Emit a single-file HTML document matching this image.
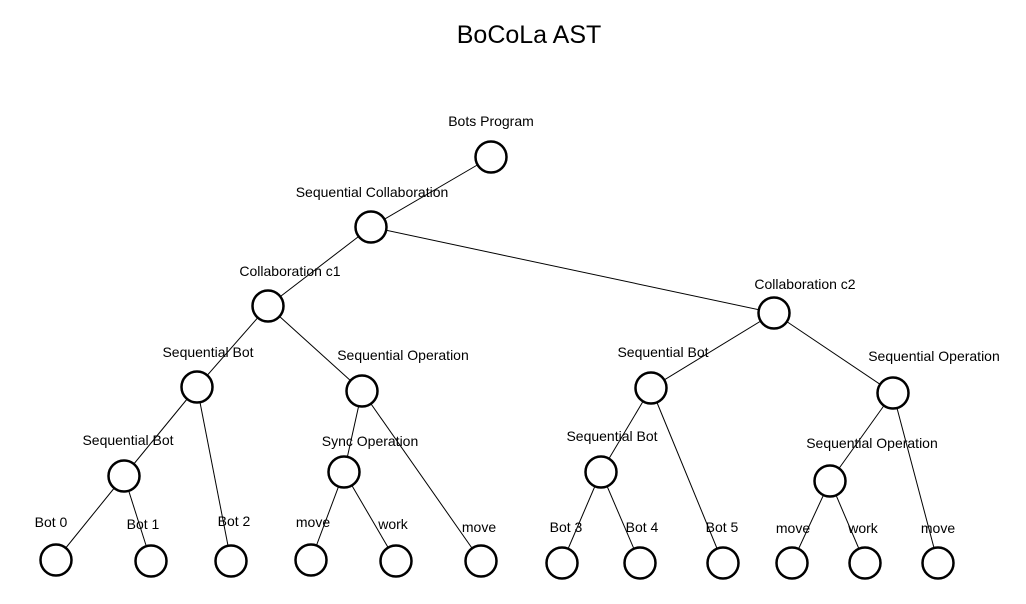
<!DOCTYPE html>
<html><head><meta charset="utf-8"><style>
html,body{margin:0;padding:0;background:#fff;}
svg{display:block;}
text{font-family:"Liberation Sans",Arial,sans-serif;font-size:14px;fill:#000;text-anchor:middle;}
</style></head><body>
<svg width="1026" height="604" viewBox="0 0 1026 604" xmlns="http://www.w3.org/2000/svg">
<text x="529" y="43" style="font-size:25px">BoCoLa AST</text>
<g stroke="#000" stroke-width="1">
<line x1="491" y1="157" x2="371" y2="227"/>
<line x1="371" y1="227" x2="268" y2="306"/>
<line x1="371" y1="227" x2="774" y2="313"/>
<line x1="268" y1="306" x2="197" y2="387"/>
<line x1="268" y1="306" x2="362" y2="391"/>
<line x1="197" y1="387" x2="124" y2="476"/>
<line x1="197" y1="387" x2="231" y2="561"/>
<line x1="124" y1="476" x2="56" y2="560"/>
<line x1="124" y1="476" x2="151" y2="561"/>
<line x1="362" y1="391" x2="344" y2="472"/>
<line x1="362" y1="391" x2="481" y2="561"/>
<line x1="344" y1="472" x2="311" y2="560"/>
<line x1="344" y1="472" x2="396" y2="561"/>
<line x1="774" y1="313" x2="651" y2="388"/>
<line x1="774" y1="313" x2="893" y2="393"/>
<line x1="651" y1="388" x2="601" y2="472"/>
<line x1="651" y1="388" x2="723" y2="563"/>
<line x1="601" y1="472" x2="562" y2="563"/>
<line x1="601" y1="472" x2="640" y2="563"/>
<line x1="893" y1="393" x2="830" y2="481"/>
<line x1="893" y1="393" x2="938" y2="563"/>
<line x1="830" y1="481" x2="792" y2="563"/>
<line x1="830" y1="481" x2="865" y2="563"/>
</g>
<g fill="#fff" stroke="#000" stroke-width="2.5">
<circle cx="491" cy="157" r="15.5"/>
<circle cx="371" cy="227" r="15.5"/>
<circle cx="268" cy="306" r="15.5"/>
<circle cx="774" cy="313" r="15.5"/>
<circle cx="197" cy="387" r="15.5"/>
<circle cx="362" cy="391" r="15.5"/>
<circle cx="124" cy="476" r="15.5"/>
<circle cx="344" cy="472" r="15.5"/>
<circle cx="56" cy="560" r="15.5"/>
<circle cx="151" cy="561" r="15.5"/>
<circle cx="231" cy="561" r="15.5"/>
<circle cx="311" cy="560" r="15.5"/>
<circle cx="396" cy="561" r="15.5"/>
<circle cx="481" cy="561" r="15.5"/>
<circle cx="651" cy="388" r="15.5"/>
<circle cx="893" cy="393" r="15.5"/>
<circle cx="601" cy="472" r="15.5"/>
<circle cx="562" cy="563" r="15.5"/>
<circle cx="640" cy="563" r="15.5"/>
<circle cx="723" cy="563" r="15.5"/>
<circle cx="830" cy="481" r="15.5"/>
<circle cx="792" cy="563" r="15.5"/>
<circle cx="865" cy="563" r="15.5"/>
<circle cx="938" cy="563" r="15.5"/>
</g>
<text x="491" y="126">Bots Program</text>
<text x="372" y="197">Sequential Collaboration</text>
<text x="290" y="276">Collaboration c1</text>
<text x="805" y="289">Collaboration c2</text>
<text x="208" y="357">Sequential Bot</text>
<text x="403" y="360">Sequential Operation</text>
<text x="128" y="445">Sequential Bot</text>
<text x="370" y="446">Sync Operation</text>
<text x="51" y="527">Bot 0</text>
<text x="143" y="529">Bot 1</text>
<text x="234" y="526">Bot 2</text>
<text x="313" y="527">move</text>
<text x="393" y="529">work</text>
<text x="479" y="532">move</text>
<text x="663" y="357">Sequential Bot</text>
<text x="934" y="361">Sequential Operation</text>
<text x="612" y="441">Sequential Bot</text>
<text x="872" y="448">Sequential Operation</text>
<text x="566" y="532">Bot 3</text>
<text x="642" y="532">Bot 4</text>
<text x="722" y="532">Bot 5</text>
<text x="793" y="533">move</text>
<text x="863" y="533">work</text>
<text x="938" y="533">move</text>
</svg>
</body></html>
